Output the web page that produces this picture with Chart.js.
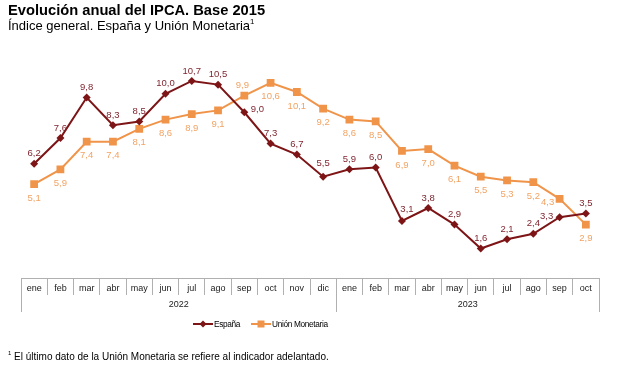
<!DOCTYPE html>
<html>
<head>
<meta charset="utf-8">
<script src="https://cdn.jsdelivr.net/npm/chart.js@4/dist/chart.umd.min.js"></script>
<style>
  body { margin: 0; background: #fff; font-family: Arial, "Liberation Sans", sans-serif; }
  #wrap { position: relative; width: 628px; height: 377px; overflow: hidden; }
  #title { position: absolute; left: 8px; top: 2px; font-size: 14.7px; font-weight: bold; color: #000; }
  #subtitle { position: absolute; left: 8px; top: 18px; font-size: 13px; color: #000; }
  sup { font-size: 0.6em; vertical-align: top; position: relative; top: -1px; }
  #chart { position: absolute; left: 0; top: 0; }
  #legend { position: absolute; top: 319px; left: 193px; font-size: 8.3px; letter-spacing: -0.35px; color: #000; white-space: nowrap; }
  #legend span.item { display: inline-block; margin-right: 9px; }
  #legend svg { vertical-align: middle; margin-right: 1px; position: relative; top: -1px; }
  #note { position: absolute; left: 8px; top: 351px; font-size: 10px; color: #000; }
</style>
</head>
<body>
<div id="wrap">
  <canvas id="chart" width="628" height="322"></canvas>
  <div id="title">Evolución anual del IPCA. Base 2015</div>
  <div id="subtitle">Índice general. España y Unión Monetaria<sup>1</sup></div>
  <div id="legend">
    <span class="item"><svg width="20" height="8"><line x1="0" y1="4" x2="20" y2="4" stroke="#7d1416" stroke-width="2"/><path d="M10 0.5 L13.5 4 L10 7.5 L6.5 4 Z" fill="#7d1416"/></svg>España</span>
    <span class="item"><svg width="20" height="8"><line x1="0" y1="4" x2="20" y2="4" stroke="#f0944a" stroke-width="2"/><rect x="6.5" y="0.5" width="7" height="7" fill="#f0944a"/></svg>Unión Monetaria</span>
  </div>
  <div id="note"><sup>1</sup> El último dato de la Unión Monetaria se refiere al indicador adelantado.</div>
</div>
<script>
const months = ['ene', 'feb', 'mar', 'abr', 'may', 'jun', 'jul', 'ago', 'sep', 'oct', 'nov', 'dic',
                'ene', 'feb', 'mar', 'abr', 'may', 'jun', 'jul', 'ago', 'sep', 'oct']
const years = ['2022', '2023']
const yearSpans = [12, 10]

const espana = [6.2, 7.6, 9.8, 8.3, 8.5, 10.0, 10.7, 10.5, 9.0, 7.3, 6.7, 5.5,
                5.9, 6.0, 3.1, 3.8, 2.9, 1.6, 2.1, 2.4, 3.3, 3.5]
const unionMonetaria = [5.1, 5.9, 7.4, 7.4, 8.1, 8.6, 8.9, 9.1, 9.9, 10.6, 10.1, 9.2,
                        8.6, 8.5, 6.9, 7.0, 6.1, 5.5, 5.3, 5.2, 4.3, 2.9]

const RED = '#7d1416'
const ORANGE = '#f0944a'
const GRID = '#b0b0b0'
const FONT = 'Arial, "Liberation Sans", sans-serif'

// where each value label sits relative to its point (default: above for España, below for UM)
const labelPlacement = [
  { def: [0, -10], special: { 8: [13, -3], 11: [0, -13], 14: [5, -12], 20: [-13, -1] }, color: '#7d1f2a' },
  { def: [0, 14], special: { 8: [-2, -10], 20: [-12, 4] }, color: '#f2a363' }
]

const valueLabels = {
  id: 'valueLabels',
  afterDatasetsDraw(chart) {
    const ctx = chart.ctx
    ctx.save()
    ctx.font = '9.5px ' + FONT
    ctx.textAlign = 'center'
    ctx.textBaseline = 'middle'
    chart.data.datasets.forEach((ds, di) => {
      const meta = chart.getDatasetMeta(di)
      const p = labelPlacement[di]
      ctx.fillStyle = p.color
      meta.data.forEach((pt, i) => {
        const off = p.special[i] || p.def
        ctx.fillText(ds.data[i].toFixed(1).replace('.', ','), pt.x + off[0], pt.y + off[1])
      })
    })
    ctx.restore()
  }
}

// year row and long separators under the month axis
const yearRow = {
  id: 'yearRow',
  afterDraw(chart) {
    const ctx = chart.ctx
    const x = chart.scales.x
    const area = chart.chartArea
    const half = (x.getPixelForValue(1) - x.getPixelForValue(0)) / 2
    ctx.save()
    ctx.strokeStyle = GRID
    ctx.lineWidth = 1
    ctx.fillStyle = '#222'
    ctx.font = '9px ' + FONT
    ctx.textAlign = 'center'
    ctx.textBaseline = 'middle'
    let start = 0
    const edges = [x.getPixelForValue(0) - half]
    yearSpans.forEach((n, k) => {
      const left = x.getPixelForValue(start) - half
      const right = x.getPixelForValue(start + n - 1) + half
      edges.push(right)
      ctx.fillText(years[k], (left + right) / 2, area.bottom + 27)
      start += n
    })
    edges.forEach(e => {
      const px = Math.round(e) + 0.5
      ctx.beginPath()
      ctx.moveTo(px, area.bottom)
      ctx.lineTo(px, area.bottom + 34)
      ctx.stroke()
    })
    ctx.restore()
  }
}

new Chart(document.getElementById('chart'), {
  type: 'line',
  data: {
    labels: months,
    datasets: [
      {
        label: 'España',
        data: espana,
        borderColor: RED,
        backgroundColor: RED,
        borderWidth: 2,
        pointStyle: 'rectRot',
        pointRadius: 4,
        pointBorderWidth: 0,
        tension: 0
      },
      {
        label: 'Unión Monetaria',
        data: unionMonetaria,
        borderColor: ORANGE,
        backgroundColor: ORANGE,
        borderWidth: 2,
        pointStyle: 'rect',
        pointRadius: 5.5,
        pointBorderWidth: 0,
        tension: 0
      }
    ]
  },
  options: {
    responsive: false,
    animation: false,
    layout: { padding: { left: 21, right: 29, top: 57, bottom: 0 } },
    plugins: {
      legend: { display: false },
      tooltip: { enabled: false }
    },
    scales: {
      x: {
        offset: true,
        grid: { offset: true, drawOnChartArea: false, tickLength: 17, color: GRID },
        border: { display: true, color: GRID },
        ticks: { font: { size: 9, family: FONT }, color: '#222', padding: -12, maxRotation: 0, autoSkip: false },
        afterFit(scale) { scale.height = 44 }
      },
      y: {
        display: false,
        min: 0,
        max: 12
      }
    }
  },
  plugins: [valueLabels, yearRow]
})
</script>
</body>
</html>
